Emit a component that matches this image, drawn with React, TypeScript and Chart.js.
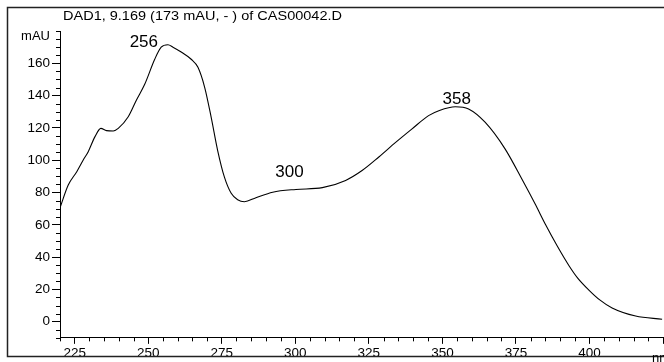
import React, { useEffect, useRef } from "react";
import { Chart, registerables } from "chart.js";

Chart.register(...registerables);

// Wavelength (nm) and absorbance (mAU)
const wavelengths = [
  220, 222.8, 225.7, 227.9, 229.6, 231.9, 233.9, 235.8, 238.1, 239.8, 243.2, 246, 248.8,
  252.2, 254.4, 256.7, 258.4, 261.2, 264.6, 266.9, 269.2, 271.4, 273.6, 275.9, 278.2, 280.4,
  282.7, 286.6, 292.3, 300.2, 309.2, 317.1, 322.7, 328.4, 334.1, 339.7, 345.3, 349, 354.4,
  358.9, 364.5, 371.3, 377.2, 381.5, 385.1, 389, 393.1, 396, 399.8, 403.5, 407.7, 415.7, 424.7,
];
const absorbance = [
  70.5, 84.6, 92.9, 100.1, 105.3, 114.6, 119.7, 118.3, 118.1, 119.7, 126.9, 137.3, 147,
  162.5, 170, 171.5, 170, 167, 162.5, 157.5, 145, 126.5, 106, 89.5, 79.5, 75.5,
  74.3, 76.8, 80.2, 81.9, 83, 87.5, 93.6, 102, 111, 119.4, 127.6, 130.8, 133.1,
  131.7, 123.5, 107, 87.7, 73, 60, 47, 34.5, 27, 19.6, 13.5, 8.5, 3.5, 1.5,
];

// Peak annotations (text, anchor in data units)
const peakLabels = ["256", "300", "358"];
const peakLabelX = [248.5, 298.0, 354.9];
const peakLabelY = [173.3, 92.3, 137.7];

const titleText = "DAD1, 9.169 (173 mAU, - ) of CAS00042.D";
const yUnit = "mAU";
const xUnit = "nm";

const xMin = 220;
const xMax = 425;
const xStep = 5;
const xLabelStep = 25;
const yMin = -10;
const yMax = 180;
const yStep = 5;
const yLabelStep = 20;

const FONT = "'Liberation Sans', Arial, Helvetica, sans-serif";

const isXMajor = (v: number) => v % xLabelStep === 0;
const isXLabel = (v: number) => isXMajor(v) && v !== xMax;
const isYMajor = (v: number) => v % yLabelStep === 0 && v !== yMax;

const decorPlugin = {
  id: "decor",
  afterDraw(chart: any) {
    const ctx = chart.ctx as CanvasRenderingContext2D;
    const xs = chart.scales.x;
    const ys = chart.scales.y;
    ctx.save();
    // minor ticks
    ctx.strokeStyle = "#000";
    ctx.lineWidth = 1;
    ctx.beginPath();
    xs.ticks.forEach((t: any) => {
      if (!isXMajor(t.value)) {
        const px = Math.round(xs.getPixelForValue(t.value)) + 0.5;
        ctx.moveTo(px, xs.top);
        ctx.lineTo(px, xs.top + 3.5);
      }
    });
    ys.ticks.forEach((t: any) => {
      if (!isYMajor(t.value)) {
        const py = Math.round(ys.getPixelForValue(t.value)) + 0.5;
        ctx.moveTo(ys.right, py);
        ctx.lineTo(ys.right - 4, py);
      }
    });
    ctx.stroke();

    // frame
    ctx.strokeStyle = "#222";
    ctx.lineWidth = 1.5;
    ctx.beginPath();
    ctx.moveTo(chart.width, 7.5);
    ctx.lineTo(7.5, 7.5);
    ctx.lineTo(7.5, 356.5);
    ctx.lineTo(chart.width, 356.5);
    ctx.stroke();

    ctx.fillStyle = "#000";
    // title
    ctx.font = `12px ${FONT}`;
    ctx.textBaseline = "middle";
    ctx.textAlign = "left";
    const w = ctx.measureText(titleText).width;
    ctx.save();
    ctx.translate(63, 16.5);
    ctx.scale(279 / w, 1);
    ctx.fillText(titleText, 0, 0);
    ctx.restore();

    // unit labels
    ctx.font = `13px ${FONT}`;
    ctx.textAlign = "right";
    ctx.fillText(yUnit, ys.right - 10, ys.getPixelForValue(yMax) + 5);
    ctx.textAlign = "left";
    ctx.textBaseline = "top";
    ctx.fillText(xUnit, 652, 352);

    // peak labels
    ctx.font = `17px ${FONT}`;
    ctx.textAlign = "center";
    ctx.textBaseline = "middle";
    peakLabels.forEach((s, i) => {
      ctx.fillText(s, xs.getPixelForValue(peakLabelX[i]), ys.getPixelForValue(peakLabelY[i]));
    });
    ctx.restore();
  },
};

export default function App() {
  const ref = useRef<HTMLCanvasElement | null>(null);
  useEffect(() => {
    if (!ref.current) return;
    const chart = new Chart(ref.current, {
      type: "line",
      data: {
        datasets: [
          {
            data: wavelengths.map((x, i) => ({ x, y: absorbance[i] })),
            borderColor: "#000",
            borderWidth: 1.1,
            pointRadius: 0,
            fill: false,
            cubicInterpolationMode: "monotone",
          },
        ],
      },
      options: {
        animation: false,
        responsive: true,
        maintainAspectRatio: false,
        layout: { padding: { top: 31, left: 0, right: 0, bottom: 0 } },
        plugins: { legend: { display: false }, tooltip: { enabled: false }, title: { display: false } },
        scales: {
          x: {
            type: "linear",
            min: xMin,
            max: xMax,
            afterFit: (s: any) => {
              s.height = 362 - 337.85;
            },
            border: { display: true, color: "#000", width: 1 },
            grid: {
              display: true,
              drawOnChartArea: false,
              drawTicks: true,
              tickLength: 6,
              tickColor: (c: any) => (c.tick && isXMajor(c.tick.value) ? "#000" : "rgba(0,0,0,0)"),
            },
            ticks: {
              stepSize: xStep,
              autoSkip: false,
              maxRotation: 0,
              padding: 1,
              color: "#000",
              font: { family: FONT, size: 13.5 },
              callback: (v: any) => (isXLabel(Number(v)) ? String(v) : ""),
            },
          },
          y: {
            type: "linear",
            min: yMin,
            max: yMax,
            afterFit: (s: any) => {
              s.width = 60;
            },
            border: { display: true, color: "#000", width: 1 },
            grid: {
              display: true,
              drawOnChartArea: false,
              drawTicks: true,
              tickLength: 8,
              tickColor: (c: any) => (c.tick && isYMajor(c.tick.value) ? "#000" : "rgba(0,0,0,0)"),
            },
            ticks: {
              stepSize: yStep,
              autoSkip: false,
              padding: 2,
              color: "#000",
              font: { family: FONT, size: 13.5 },
              callback: (v: any) => (isYMajor(Number(v)) ? String(v) : ""),
            },
          },
        },
      },
      plugins: [decorPlugin],
    });
    return () => chart.destroy();
  }, []);
  return (
    <div style={{ position: "absolute", left: 0, top: 0, width: 664, height: 362, background: "#fff" }}>
      <canvas ref={ref} />
    </div>
  );
}
